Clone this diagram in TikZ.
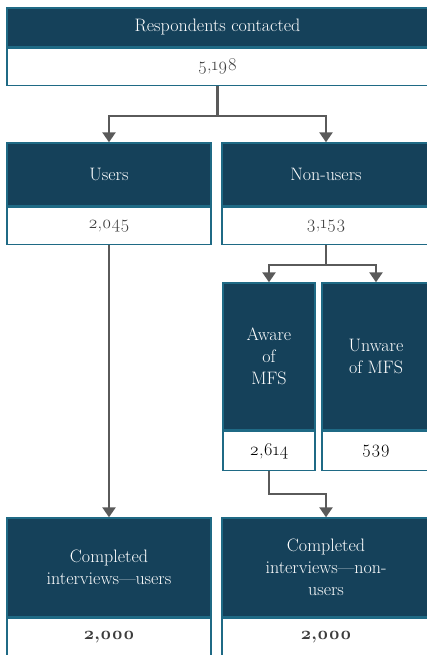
\documentclass[tikz,border=0pt]{standalone}
\usepackage{fontspec}
\setmainfont{Latin Modern Roman}[Numbers=OldStyle]
\usetikzlibrary{arrows.meta, positioning}

\definecolor{navy}{HTML}{15415A}
\definecolor{teal}{HTML}{1F6A85}
\definecolor{linegray}{HTML}{5A5A5A}
\definecolor{txtgray}{HTML}{3C3C3C}

\tikzset{
	head/.style={draw=teal, fill=navy, line width=1.4pt, text=white, inner sep=0pt, align=center, font=\fontsize{18}{22}\selectfont},
	val/.style={draw=teal, fill=white, line width=1.4pt, text=txtgray, inner sep=0pt, align=center, font=\fontsize{18}{22}\selectfont},
	conn/.style={draw=linegray, line width=2.4pt},
	arr/.style={conn, -{Triangle[width=13pt,length=10pt]}}
}

\begin{document}
\begin{tikzpicture}[x=1pt, y=-1pt]
		
		\useasboundingbox (0,0) rectangle (427,655);
		
		% top box
		\node[head, minimum width=421pt, minimum height=39pt] (resp) at (217.5,27.5) {Respondents contacted};
		\node[val, minimum width=421pt, minimum height=37pt, below=0pt of resp] (respv) {5,198};
		
		% users and non-users
		\node[head, minimum width=204pt, minimum height=63pt] (users) at (109,174.5) {Users};
		\node[val, minimum width=204pt, minimum height=37pt, below=0pt of users] (usersv) {2,045};
		\node[head, minimum width=208pt, minimum height=63pt] (nonusers) at (326,174.5) {Non-users};
		\node[val, minimum width=208pt, minimum height=37pt, below=0pt of nonusers] (nonusersv) {3,153};
		
		% aware / unaware
		\node[head, minimum width=92pt, minimum height=147pt] (aware) at (269,356.5) {Aware\\of\\MFS};
		\node[val, text=black, minimum width=92pt, minimum height=39pt, below=0pt of aware] (awarev) {2,614};
		\node[head, minimum width=108pt, minimum height=147pt] (unaware) at (376,356.5) {Unware\\of MFS};
		\node[val, text=black, minimum width=108pt, minimum height=39pt, below=0pt of unaware] (unawarev) {539};
		
		% completed interviews
		\node[head, minimum width=204pt, minimum height=99pt] (compu) at (109,567.5) {Completed\\interviews---users};
		\node[val, minimum width=204pt, minimum height=37pt, below=0pt of compu] (compuv) {\textbf{2,000}};
		\node[head, minimum width=208pt, minimum height=99pt] (compn) at (326,567.5) {Completed\\interviews---non-\\users};
		\node[val, minimum width=208pt, minimum height=37pt, below=0pt of compn] (compnv) {\textbf{2,000}};
		
		% connectors
		\draw[arr] (respv.south) -- ++(0,30) -| (users.north);
		\draw[arr] (respv.south) -- ++(0,30) -| (nonusers.north);
		\draw[arr] (usersv.south) -- (compu.north);
		\draw[arr] (nonusersv.south) -- ++(0,20) -| (aware.north);
		\draw[arr] (nonusersv.south) -- ++(0,20) -| (unaware.north);
		\draw[arr] (awarev.south) -- ++(0,23) -| (compn.north);
		
	\end{tikzpicture}
\end{document}
